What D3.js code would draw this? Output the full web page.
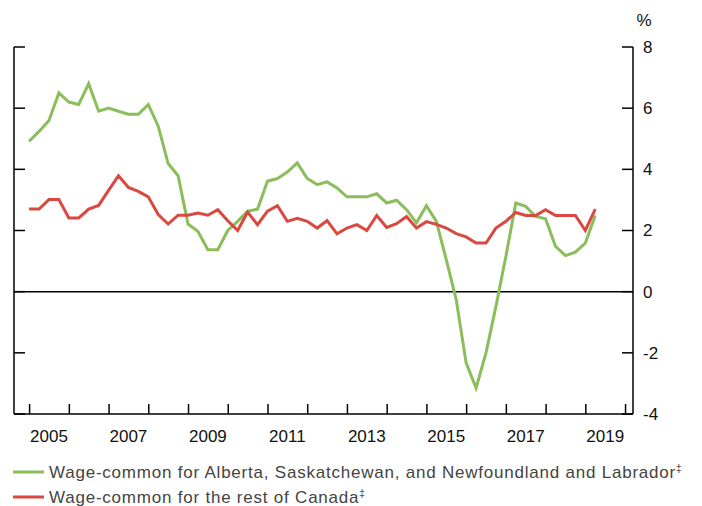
<!DOCTYPE html>
<meta charset="utf-8">
<style>
body { margin: 0; background: #fff; }
svg { font-family: "Liberation Sans", Arial, sans-serif; }
.axis path, .axis line { fill: none; stroke: #000; stroke-width: 1.5; }
.axis text { font-size: 17px; fill: #111; }
.legend text { font-size: 17px; fill: #444; letter-spacing: 0.78px; }
</style>
<body>
<script src="https://cdn.jsdelivr.net/npm/d3@7"></script>
<script>

// quarterly, 2005Q1 .. 2019Q2
var startYear = 2005;
var greenValues = [4.92, 5.24, 5.60, 6.50, 6.20, 6.12, 6.80, 5.90, 6.00, 5.90,
  5.80, 5.80, 6.12, 5.41, 4.19, 3.79, 2.21, 1.97, 1.37, 1.37,
  2.00, 2.30, 2.63, 2.70, 3.61, 3.70, 3.91, 4.21, 3.70, 3.50,
  3.59, 3.39, 3.10, 3.10, 3.10, 3.20, 2.90, 2.99, 2.68, 2.25,
  2.81, 2.30, 1.05, -0.26, -2.33, -3.15, -2.00, -0.48, 1.15, 2.90,
  2.79, 2.46, 2.38, 1.48, 1.18, 1.29, 1.59, 2.49];
var redValues = [2.70, 2.70, 3.01, 3.01, 2.41, 2.41, 2.70, 2.82, 3.31, 3.79,
  3.41, 3.28, 3.10, 2.52, 2.21, 2.50, 2.50, 2.57, 2.50, 2.68,
  2.32, 2.00, 2.60, 2.19, 2.63, 2.81, 2.30, 2.40, 2.30, 2.08,
  2.32, 1.89, 2.08, 2.19, 2.00, 2.49, 2.10, 2.22, 2.46, 2.08,
  2.29, 2.20, 2.08, 1.90, 1.79, 1.59, 1.59, 2.08, 2.30, 2.59,
  2.49, 2.49, 2.68, 2.49, 2.49, 2.49, 2.00, 2.70];
var yTicks = [-4, -2, 0, 2, 4, 6, 8];
var yearTicks = d3.range(2005, 2021);
var yearLabels = [2005, 2007, 2009, 2011, 2013, 2015, 2017, 2019];
var legendLabels = ["Wage-common for Alberta, Saskatchewan, and Newfoundland and Labrador",
  "Wage-common for the rest of Canada"];
var colors = ["#8bbd5b", "#d94841"];

var width = 702, height = 506;
var plotLeft = 14, plotRight = 633, plotTop = 47, plotBottom = 414;

var svg = d3.select("body").append("svg")
  .attr("width", width)
  .attr("height", height);

var x = d3.scaleLinear().domain([2004.62, 2020.2]).range([plotLeft, plotRight]);
var y = d3.scaleLinear().domain([-4, 8]).range([plotBottom, plotTop]);

// frame: left, right, bottom
svg.append("line")
  .attr("x1", plotLeft).attr("x2", plotLeft).attr("y1", plotTop).attr("y2", plotBottom)
  .attr("stroke", "#000").attr("stroke-width", 1.5);

var yRight = svg.append("g").attr("class", "axis")
  .attr("transform", "translate(" + plotRight + ",0)")
  .call(d3.axisRight(y).tickValues(yTicks).tickSize(0).tickPadding(10)
    .tickFormat(function (d) { return String(d); }));
yRight.select(".domain").remove();
svg.append("line")
  .attr("x1", plotRight).attr("x2", plotRight).attr("y1", plotTop).attr("y2", plotBottom)
  .attr("stroke", "#000").attr("stroke-width", 1.5);

// inward ticks on both sides
svg.selectAll(".lt").data(yTicks).enter().append("line")
  .attr("x1", plotLeft).attr("x2", plotLeft + 11)
  .attr("y1", function (d) { return y(d); }).attr("y2", function (d) { return y(d); })
  .attr("stroke", "#000").attr("stroke-width", 1.5);
svg.selectAll(".rt").data(yTicks).enter().append("line")
  .attr("x1", plotRight - 11).attr("x2", plotRight)
  .attr("y1", function (d) { return y(d); }).attr("y2", function (d) { return y(d); })
  .attr("stroke", "#000").attr("stroke-width", 1.5);

svg.append("text")
  .attr("x", 644).attr("y", 26)
  .attr("text-anchor", "middle")
  .attr("font-size", 17).attr("fill", "#111")
  .text("%");

// bottom axis
var xAxis = svg.append("g").attr("class", "axis")
  .attr("transform", "translate(0," + plotBottom + ")")
  .call(d3.axisTop(x).tickValues(yearTicks).tickSize(10).tickFormat(""));
xAxis.select(".domain").remove();
svg.append("line")
  .attr("x1", plotLeft).attr("x2", plotRight).attr("y1", plotBottom).attr("y2", plotBottom)
  .attr("stroke", "#000").attr("stroke-width", 1.5);

svg.selectAll(".yl").data(yearLabels).enter().append("text")
  .attr("x", function (d) { return x(d + 0.5); })
  .attr("y", plotBottom + 28)
  .attr("text-anchor", "middle")
  .attr("font-size", 17).attr("fill", "#111")
  .text(function (d) { return d; });

// zero line
svg.append("line")
  .attr("x1", plotLeft).attr("x2", plotRight).attr("y1", y(0)).attr("y2", y(0))
  .attr("stroke", "#000").attr("stroke-width", 1.5);

var line = d3.line()
  .x(function (d, i) { return x(startYear + i / 4); })
  .y(function (d) { return y(d); });

[greenValues, redValues].forEach(function (vals, k) {
  svg.append("path")
    .datum(vals)
    .attr("fill", "none")
    .attr("stroke", colors[k])
    .attr("stroke-width", 3)
    .attr("d", line);
});

// legend
var legend = svg.append("g").attr("class", "legend");
legendLabels.forEach(function (lab, i) {
  var ly = 472 + i * 25;
  legend.append("line")
    .attr("x1", 13).attr("x2", 44).attr("y1", ly).attr("y2", ly)
    .attr("stroke", colors[i]).attr("stroke-width", 3);
  var t = legend.append("text")
    .attr("x", 49).attr("y", ly + 6)
    .text(lab);
  t.append("tspan")
    .attr("font-size", 10).attr("dy", -6)
    .text("\u2021");
});

</script>
